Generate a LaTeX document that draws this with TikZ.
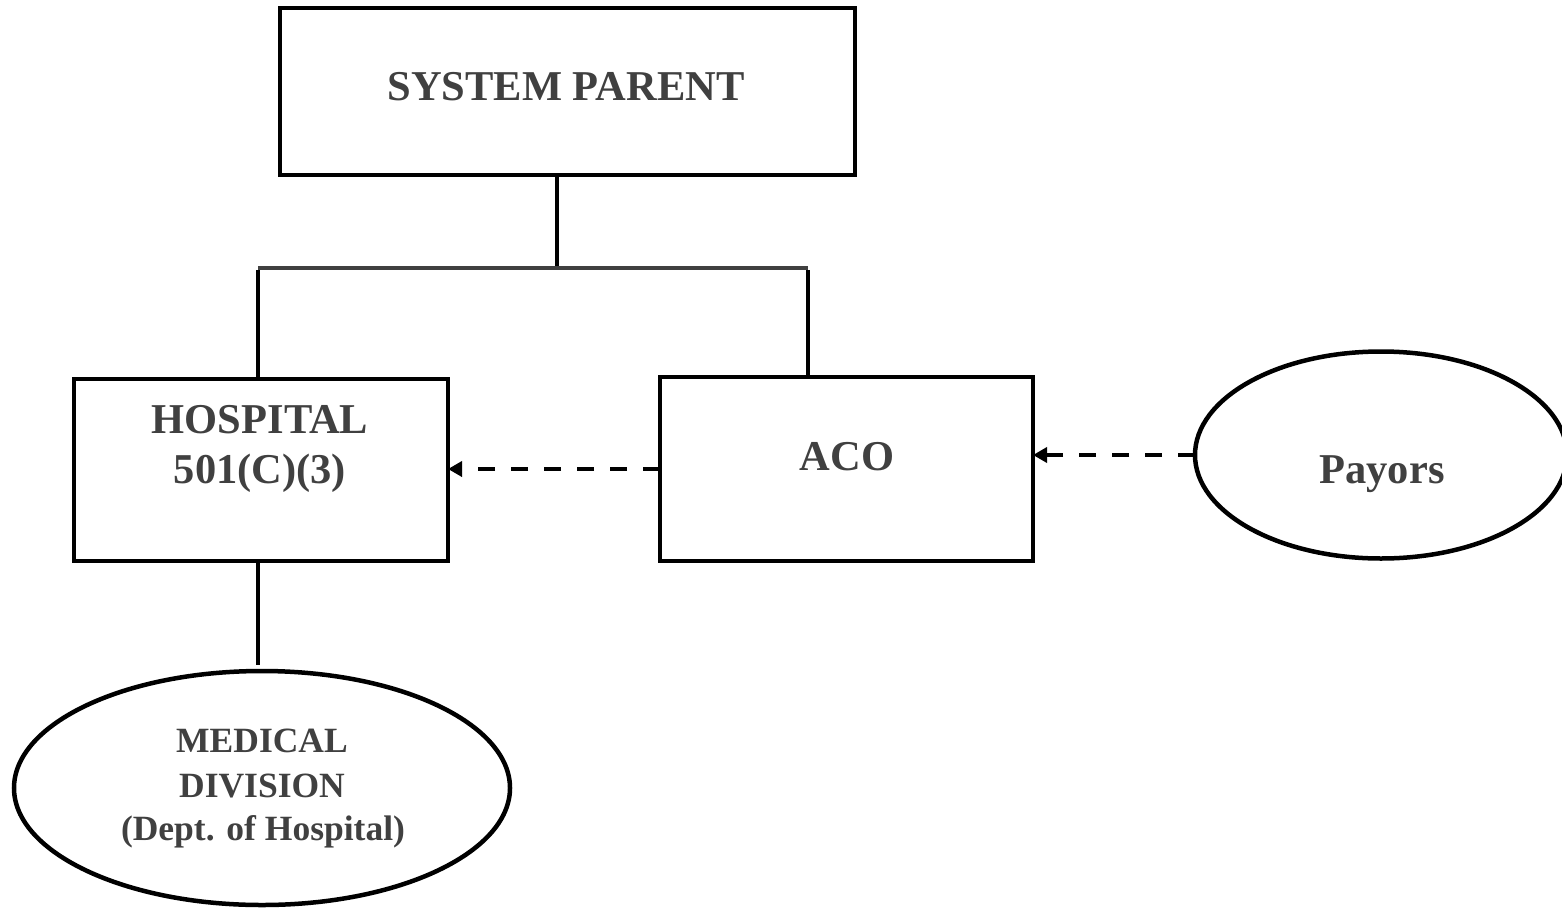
\documentclass[tikz,border=0pt]{standalone}
\usepackage{fontspec}
\setmainfont{Liberation Serif}
\usetikzlibrary{shapes.geometric,arrows.meta}
\definecolor{inkgray}{HTML}{404040}
\begin{document}
\begin{tikzpicture}[x=1pt,y=-1pt,
  box/.style={draw=black,line width=4.5pt,rectangle,inner sep=0pt,outer sep=0pt},
  oval/.style={draw=black,line width=4.5pt,ellipse,inner sep=0pt,outer sep=0pt},
  big/.style={text=inkgray,font=\fontsize{42.5}{50}\selectfont\bfseries,inner sep=0pt,anchor=base},
  small/.style={text=inkgray,font=\fontsize{35.5}{44}\selectfont\bfseries,inner sep=0pt,anchor=base},
  link/.style={draw=black,line width=4.5pt},
  bar/.style={draw=inkgray,line width=4.5pt},
  dasharrow/.style={draw=black,line width=4.5pt,dash pattern=on 17pt off 16pt,
    -{Triangle[length=14pt,width=15pt]}}]
  \useasboundingbox (0,0) rectangle (1562,907);

  % boxes and ovals
  \node[box,minimum width=575pt,minimum height=167pt] (sys) at (567.5,91.5) {};
  \node[box,minimum width=374pt,minimum height=182pt] (hosp) at (261,470) {};
  \node[box,minimum width=373pt,minimum height=184pt] (aco) at (846.5,469) {};
  \node[oval,minimum width=372pt,minimum height=207pt] (pay) at (1381,455) {};
  \node[oval,minimum width=496pt,minimum height=234pt] (med) at (262,788) {};

  % labels
  \node[big] (sysT) at (566,100) {SYSTEM PARENT};
  \node[big] (hospA) at (260,433) {HOSPITAL};
  \node[big] (hospB) at (260,483) {501(C)(3)};
  \node[big] (acoT) at (847,470) {ACO};
  \node[big] (payT) at (1382,483) {Payors};
  \node[small] (medA) at (262,752) {MEDICAL};
  \node[small] (medB) at (262,797) {DIVISION};
  \node[small] (medC) at (263,840) {(Dept. of Hospital)};

  % tree connectors
  \coordinate (barL) at (258,268);
  \coordinate (barM) at (557,268);
  \coordinate (barR) at (808,268);
  \coordinate (medstub) at (258,665);
  \draw[link] (sys.south -| barM) -- ([yshift=-2pt]barM);
  \draw[bar] (barL) -- (barR);
  \draw[link] ([yshift=-2pt]barL) -- (hosp.north -| barL);
  \draw[link] ([yshift=-2pt]barR) -- (aco.north -| barR);
  \draw[link] (hosp.south -| medstub) -- (medstub);

  % dashed arrows
  \draw[dasharrow] (aco.west) -- (aco.west -| hosp.east);
  \draw[dasharrow] (pay.west) -- (pay.west -| aco.east);
\end{tikzpicture}
\end{document}
